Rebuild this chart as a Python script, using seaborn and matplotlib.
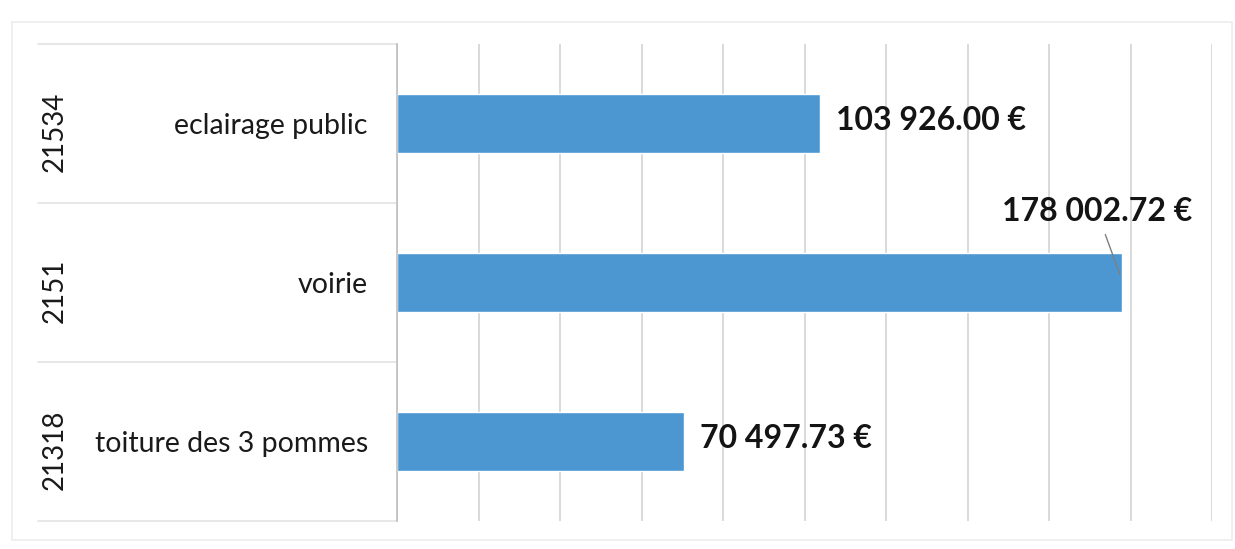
import matplotlib
matplotlib.use("Agg")
import matplotlib.pyplot as plt
import matplotlib.transforms as mtransforms
from matplotlib.patches import Rectangle
import seaborn as sns
import pandas as pd

# ---- data ----
codes = ["21534", "2151", "21318"]
names = ["eclairage public", "voirie", "toiture des 3 pommes"]
amounts = [103926.00, 178002.72, 70497.73]
value_labels = ["103 926.00 €", "178 002.72 €", "70 497.73 €"]
x_ticks = list(range(0, 200001, 20000))

df = pd.DataFrame({"name": names, "amount": amounts, "code": codes})

sns.set_theme(style="white")
plt.rcParams["font.family"] = ["Lato", "DejaVu Sans"]

fig = plt.figure(figsize=(12.35, 5.49), dpi=100)
ax = fig.add_axes([397 / 1235, 1 - 521 / 549, 815 / 1235, (521 - 44) / 549])

sns.barplot(data=df, x="amount", y="name", orient="h", color="#4C97D2",
            width=0.37, saturation=1, ax=ax)

ax.set_xlim(0, 200000)
ax.set_ylim(2.5, -0.5)
ax.set_xticks(x_ticks)
ax.set_xticklabels([""] * len(x_ticks))
ax.xaxis.grid(True, color="#d9d9d9", lw=1.4)
ax.set_axisbelow(True)
ax.set_xlabel("")
ax.set_ylabel("")
ax.tick_params(axis="both", length=0)
ax.tick_params(axis="y", pad=21, labelsize=20.5, labelcolor="#1a1a1a")
for s in ["top", "right", "bottom"]:
    ax.spines[s].set_visible(False)
ax.spines["left"].set_color("#bfbfbf")
ax.spines["left"].set_linewidth(1.2)

trans = mtransforms.blended_transform_factory(ax.transAxes, ax.transData)
x0 = -(397 - 38) / 815
# label-area separators
for yb in [-0.5, 0.5, 1.5, 2.5]:
    ax.plot([x0, 0], [yb, yb], transform=trans, color="#e3e3e3", lw=1.2,
            clip_on=False)

# codes rotated
xc = -(397 - 55) / 815
for i, c in enumerate(codes):
    ax.text(xc, i + 0.05, c, transform=trans, rotation=90, ha="center",
            va="center", fontsize=20, color="#1a1a1a")

# value labels
for i, (v, lab) in enumerate(zip(amounts, value_labels)):
    if i == 1:
        ax.annotate(lab, xy=(v - 600, i - 0.05), xytext=(-23, 63),
                    textcoords="offset pixels", ha="center", va="center",
                    fontsize=23, fontweight="bold", color="#141414",
                    arrowprops=dict(arrowstyle="-", color="#7f7f7f", lw=1,
                                    shrinkA=4, shrinkB=0))
    else:
        ax.annotate(lab, xy=(v, i - 0.02), xytext=(16, 0),
                    textcoords="offset pixels", ha="left", va="center",
                    fontsize=23, fontweight="bold", color="#141414")

# outer chart border
fig.patches.append(Rectangle((12 / 1235, 1 - 540 / 549), (1232 - 12) / 1235,
                             (540 - 22) / 549, transform=fig.transFigure,
                             fill=False, edgecolor="#ececec", lw=1.2))

fig.savefig("out.png", dpi=100)
